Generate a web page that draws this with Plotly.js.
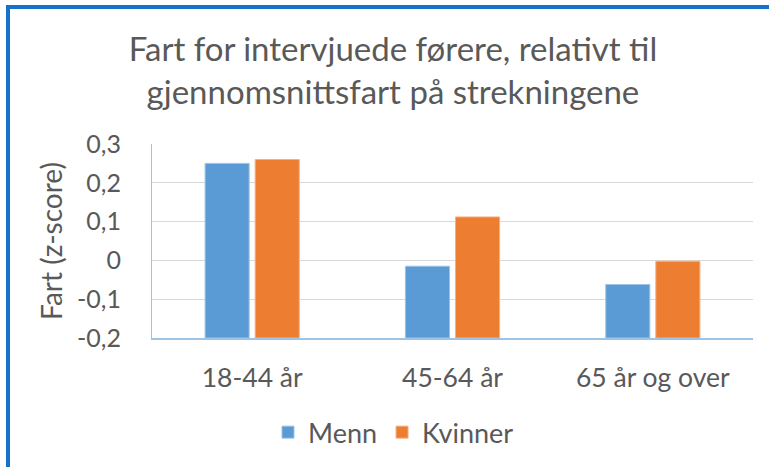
<!DOCTYPE html>
<html>
<head>
<meta charset="utf-8">
<script src="https://cdn.plot.ly/plotly-3.0.1.min.js"></script>
<style>
  html, body { margin: 0; padding: 0; background: #fff; }
  #wrap { position: relative; width: 769px; height: 467px; overflow: hidden; }
  #chart { width: 769px; height: 467px; }
  #frame { position: absolute; left: 6px; top: 5px; width: 800px; height: 500px;
           border-left: 4px solid #1473C6; border-top: 4px solid #1473C6; pointer-events: none; }
</style>
</head>
<body>
<div id="wrap">
  <div id="chart"></div>
  <div id="frame"></div>
</div>
<script>
const categories = ['18-44 år', '45-64 år', '65 år og over'];
const menn = [0.25, -0.015, -0.062];
const kvinner = [0.26, 0.112, -0.002];
const yTickVals = [-0.2, -0.1, 0, 0.1, 0.2, 0.3];
const yTickText = ['-0,2', '-0,1', '0', '0,1', '0,2', '0,3'];
const axisMin = -0.2;

const font = 'Lato, "Open Sans", sans-serif';
const txt = '#595959';

function barTrace(name, vals, color, edge) {
  return {
    type: 'bar', name: name, x: categories,
    y: vals.map(v => v - axisMin), base: axisMin,
    customdata: vals,
    hovertemplate: '%{x}: %{customdata}<extra>' + name + '</extra>',
    marker: { color: color, line: { color: edge, width: 1 } }
  };
}

const data = [
  barTrace('Menn', menn, '#5B9BD5', '#9DC3E6'),
  barTrace('Kvinner', kvinner, '#ED7D31', '#F4B183')
];

const layout = {
  width: 769, height: 467,
  margin: { l: 152, r: 16, t: 144, b: 128 },
  paper_bgcolor: '#fff', plot_bgcolor: '#fff',
  font: { family: font, color: txt, size: 22 },
  title: {
    text: 'Fart for intervjuede førere, relativt til<br>gjennomsnittsfart på strekningene',
    font: { family: font, size: 33, color: txt },
    x: 0.511, xanchor: 'center', y: 0.87, yanchor: 'top'
  },
  barmode: 'group', bargap: 0.5, bargroupgap: 0.12,
  xaxis: {
    type: 'category',
    showgrid: false, showline: true, linecolor: '#9DC3E6', linewidth: 1.5,
    ticks: 'outside', ticklen: 15, tickcolor: 'rgba(0,0,0,0)',
    tickfont: { family: font, size: 26.5, color: txt },
    zeroline: false
  },
  yaxis: {
    range: [-0.2, 0.3], tickvals: yTickVals, ticktext: yTickText,
    showgrid: true, gridcolor: '#D9D9D9', gridwidth: 1,
    showline: true, linecolor: '#9DC3E6', linewidth: 1,
    zeroline: false,
    ticks: 'outside', ticklen: 25, tickcolor: 'rgba(0,0,0,0)',
    tickfont: { family: font, size: 25, color: txt },
    title: { text: 'Fart (z-score)', font: { family: font, size: 28, color: txt }, standoff: 6 }
  },
  showlegend: true,
  legend: {
    orientation: 'h', x: 0.193, xanchor: 'left', y: -0.48, yanchor: 'middle',
    font: { family: font, size: 27, color: txt },
    itemwidth: 30, tracegroupgap: 0, bgcolor: 'rgba(0,0,0,0)'
  },
  hovermode: 'closest'
};

Plotly.newPlot('chart', data, layout, { displayModeBar: false });
</script>
</body>
</html>
